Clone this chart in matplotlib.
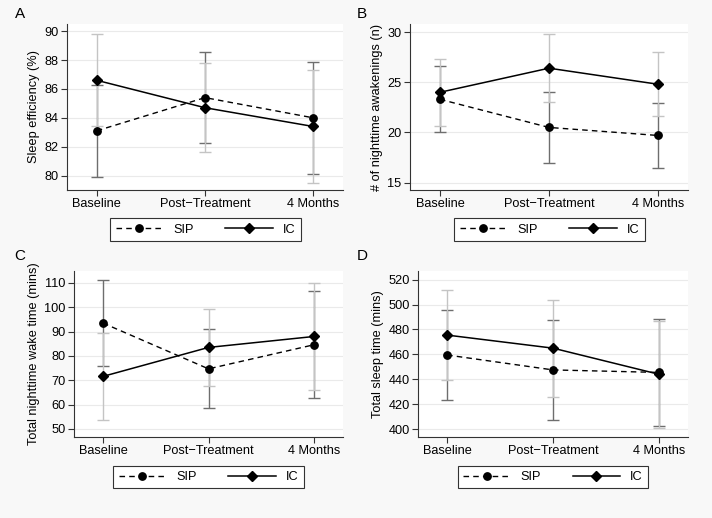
import matplotlib
matplotlib.use("Agg")
import matplotlib.pyplot as plt

plt.rcParams['font.family'] = ['Liberation Sans', 'DejaVu Sans']

timepoints = ["Baseline", "Post\u2212Treatment", "4 Months"]
x = [0, 1, 2]

# panel A: sleep efficiency
sip_se = [83.1, 85.4, 84.0]
sip_se_err = [3.2, 3.15, 3.9]
ic_se = [86.6, 84.7, 83.4]
ic_se_err = [3.2, 3.1, 3.9]

# panel B: nighttime awakenings
sip_nwak = [23.3, 20.5, 19.7]
sip_nwak_err = [3.3, 3.5, 3.25]
ic_nwak = [24.0, 26.4, 24.8]
ic_nwak_err = [3.35, 3.4, 3.2]

# panel C: wake time
sip_wake = [93.5, 74.7, 84.6]
sip_wake_err = [17.8, 16.2, 21.9]
ic_wake = [71.6, 83.5, 88.0]
ic_wake_err = [17.8, 15.9, 21.9]

# panel D: total sleep time
sip_tst = [459.5, 447.5, 445.5]
sip_tst_err = [36, 40, 43]
ic_tst = [475.5, 465.0, 444.0]
ic_tst_err = [36, 39, 43]

W, H = 712, 518
fig = plt.figure(figsize=(W / 100, H / 100), dpi=100)
fig.patch.set_facecolor("#f8f8f8")

panels = [
    # label, (left, right, top, bottom px), sip, sip_err, ic, ic_err, ylim, yticks, ylabel, legend center px
    ("A", (67, 343, 24, 190), sip_se, sip_se_err, ic_se, ic_se_err, (79.0, 90.5),
     [80, 82, 84, 86, 88, 90], "Sleep efficiency (%)", (205.5, 229.5), (20, 14)),
    ("B", (410, 688, 24, 190), sip_nwak, sip_nwak_err, ic_nwak, ic_nwak_err, (14.27, 30.8),
     [15, 20, 25, 30], "# of nighttime awakenings (n)", (549.5, 229.5), (362, 14)),
    ("C", (74, 343, 271, 437), sip_wake, sip_wake_err, ic_wake, ic_wake_err, (46.7, 114.9),
     [50, 60, 70, 80, 90, 100, 110], "Total nighttime wake time (mins)", (208.5, 477), (20, 256)),
    ("D", (418, 688, 271, 437), sip_tst, sip_tst_err, ic_tst, ic_tst_err, (393.6, 527),
     [400, 420, 440, 460, 480, 500, 520], "Total sleep time (mins)", (553, 477), (362, 256)),
]

fs = 9.2
for label, box, sip, sip_err, ic, ic_err, ylim, yticks, ylabel, legc, labpos in panels:
    l, r, t, b = box
    ax = fig.add_axes([l / W, 1 - b / H, (r - l) / W, (b - t) / H])
    ax.set_facecolor("white")

    ax.errorbar(x, sip, yerr=sip_err, fmt="none", ecolor="#6e6e6e", elinewidth=1.0,
                capsize=4, capthick=1.0, zorder=2)
    ax.errorbar(x, ic, yerr=ic_err, fmt="none", ecolor="#c4c4c4", elinewidth=1.0,
                capsize=4, capthick=1.0, zorder=2)
    ax.plot(x, sip, color="black", linestyle=(0, (4, 3)), linewidth=1.0, marker="o",
            markersize=5.3, label="SIP", zorder=3)
    ax.plot(x, ic, color="black", linestyle="-", linewidth=1.1, marker="D",
            markersize=5.6, label="IC", zorder=3)

    ax.set_xlim(-0.275, 2.275)
    ax.set_ylim(*ylim)
    ax.set_xticks(x)
    ax.set_xticklabels(timepoints, fontsize=fs)
    ax.set_yticks(yticks)
    ax.set_yticklabels([str(v) for v in yticks], fontsize=fs)
    ax.set_ylabel(ylabel, fontsize=fs, labelpad=3)
    ax.yaxis.grid(True, color="#eaeaea", linewidth=0.8)
    ax.set_axisbelow(True)
    for s in ["top", "right"]:
        ax.spines[s].set_visible(False)
    for s in ["left", "bottom"]:
        ax.spines[s].set_color("#333333")
        ax.spines[s].set_linewidth(0.8)
    ax.tick_params(direction="out", length=4, width=0.8, color="#333333", pad=2)

    leg = ax.legend(loc="center", bbox_to_anchor=(legc[0] / W, 1 - legc[1] / H),
                    bbox_transform=fig.transFigure, ncol=2, numpoints=1,
                    handlelength=3.7, handletextpad=0.8, columnspacing=2.5,
                    fontsize=fs, fancybox=False, framealpha=1, borderpad=0.4,
                    edgecolor="#333333")
    leg.get_frame().set_linewidth(0.8)

    fig.text(labpos[0] / W, 1 - labpos[1] / H, label, fontsize=11, ha="center", va="center")

fig.savefig("out.png", dpi=100, facecolor=fig.get_facecolor())
